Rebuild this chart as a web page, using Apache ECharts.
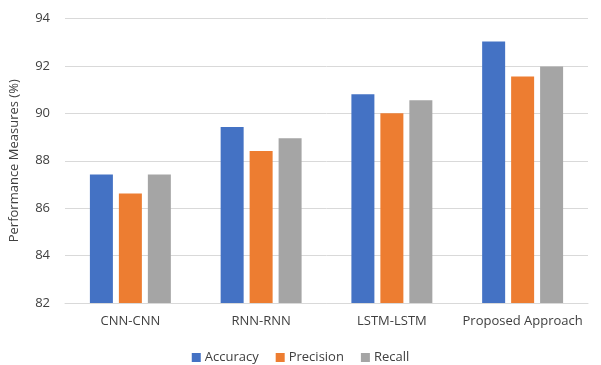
<!DOCTYPE html>
<html>
<head>
<meta charset="utf-8">
<script src="https://cdn.jsdelivr.net/npm/echarts@6/dist/echarts.min.js"></script>
<style>
  html, body { margin: 0; padding: 0; background: #fff; }
  #chart { width: 601px; height: 365px; }
</style>
</head>
<body>
<div id="chart"></div>
<script>
// values
var categories = ['CNN-CNN', 'RNN-RNN', 'LSTM-LSTM', 'Proposed Approach'];
var accuracy = [87.42, 89.42, 90.8, 93.03];
var precision = [86.62, 88.41, 90.0, 91.55];
var recall = [87.42, 88.95, 90.55, 91.98];
var yTicks = [82, 84, 86, 88, 90, 92, 94];

var font = 'Open Sans';
var chart = echarts.init(document.getElementById('chart'));

function barSeries(name, data, color) {
  return {
    name: name,
    type: 'bar',
    data: data,
    barWidth: 23,
    barGap: '26%',
    itemStyle: { color: color }
  };
}

chart.setOption({
  animation: false,
  textStyle: { fontFamily: font },
  grid: { left: 65, right: 13, top: 18.5, bottom: 62 },
  legend: {
    top: 346,
    left: 'center',
    itemWidth: 9,
    itemHeight: 9,
    itemGap: 17,
    icon: 'rect',
    textStyle: { fontFamily: font, fontSize: 13, color: '#404040', padding: [0, 0, 0, -1] },
    data: ['Accuracy', 'Precision', 'Recall']
  },
  xAxis: {
    type: 'category',
    data: categories,
    axisTick: { show: false },
    axisLine: { lineStyle: { color: '#d9d9d9' } },
    axisLabel: { interval: 0, fontFamily: font, fontSize: 13, color: '#404040', margin: 12 }
  },
  yAxis: {
    type: 'value',
    min: yTicks[0],
    max: yTicks[yTicks.length - 1],
    interval: 2,
    name: 'Performance Measures (%)',
    nameLocation: 'middle',
    nameGap: 44,
    nameTextStyle: { fontFamily: font, fontSize: 13, color: '#404040' },
    axisLine: { show: false },
    axisTick: { show: false },
    axisLabel: { fontFamily: font, fontSize: 13, color: '#404040', margin: 15 },
    splitLine: { lineStyle: { color: '#d9d9d9' } }
  },
  series: [
    barSeries('Accuracy', accuracy, '#4472c4'),
    barSeries('Precision', precision, '#ed7d31'),
    barSeries('Recall', recall, '#a5a5a5')
  ]
});
</script>
</body>
</html>
